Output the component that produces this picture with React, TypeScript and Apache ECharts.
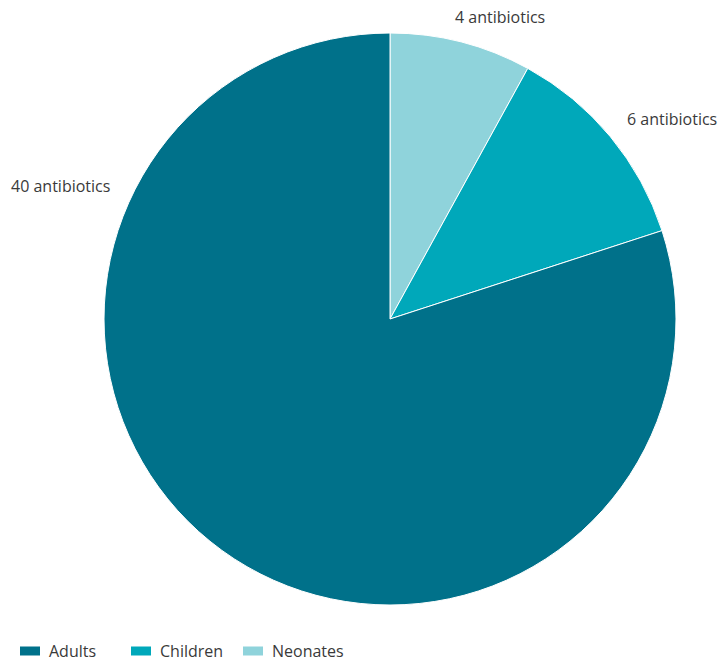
import React, { useEffect, useRef } from "react";
import * as echarts from "echarts";

const categories = ["Neonates", "Children", "Adults"];
const values = [4, 6, 40];
const labels = ["4 antibiotics", "6 antibiotics", "40 antibiotics"];
const colors = ["#8FD3DB", "#00A8BA", "#00718A"];
const legendOrder = ["Adults", "Children", "Neonates"];
const legendLefts = [18, 129, 241];
// label anchor points (left edge, vertical middle)
const labelAnchors = [
  [455, 17],
  [627, 119],
  [11, 186],
];

export default function App() {
  const ref = useRef<HTMLDivElement>(null);
  useEffect(() => {
    if (!ref.current) return;
    const chart = echarts.init(ref.current, null, { renderer: "svg" });
    chart.setOption({
      animation: false,
      backgroundColor: "#ffffff",
      legend: legendOrder.map((name, i) => ({
        data: [name],
        left: legendLefts[i],
        top: 643,
        padding: 0,
        itemWidth: 22,
        itemHeight: 11,
        icon: "rect",
        formatter: (n: string) => `{a|${n}}`,
        textStyle: {
          rich: {
            a: {
              fontFamily: "Open Sans",
              fontSize: 16,
              color: "#3a3a3a",
              padding: [0, 0, 0, 3],
            },
          },
        },
      })),
      series: [
        {
          type: "pie",
          center: [390, 319],
          radius: 286,
          startAngle: 90,
          clockwise: true,
          itemStyle: { borderColor: "#ffffff", borderWidth: 1 },
          label: {
            show: true,
            position: "inside",
            formatter: (p: any) => labels[p.dataIndex],
            fontFamily: "Open Sans",
            fontSize: 16,
            color: "#3a3a3a",
          },
          labelLine: { show: false },
          labelLayout: (p: any) => ({
            x: labelAnchors[p.dataIndex][0],
            y: labelAnchors[p.dataIndex][1],
            align: "left",
            verticalAlign: "middle",
          }),
          emphasis: { disabled: true },
          data: categories.map((c, i) => ({
            name: c,
            value: values[i],
            itemStyle: { color: colors[i] },
          })),
        },
      ],
    });
    return () => chart.dispose();
  }, []);
  return (
    <div
      ref={ref}
      style={{ position: "fixed", left: 0, top: 0, width: 722, height: 662 }}
    />
  );
}
